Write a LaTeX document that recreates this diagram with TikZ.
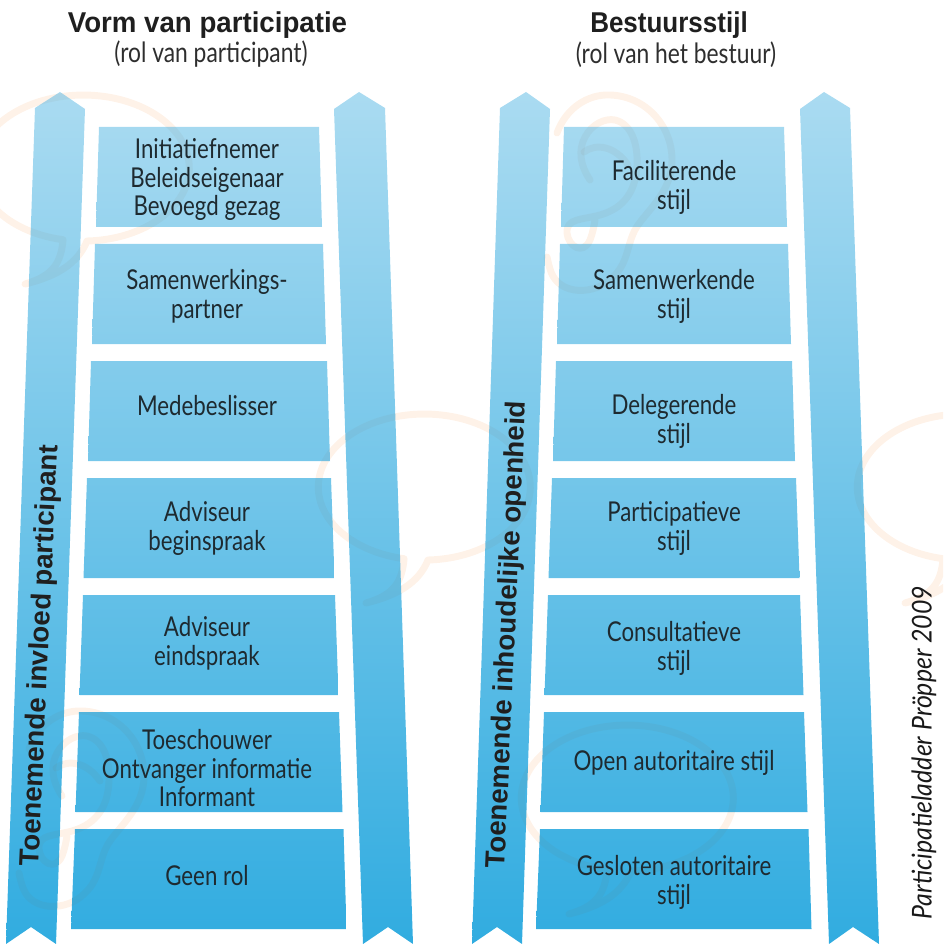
\documentclass[tikz,border=0pt]{standalone}
\usepackage{fontspec}
\setmainfont{Lato}
\newfontfamily\rungface[FakeStretch=0.815]{Lato}
\newfontfamily\headface{Liberation Sans}
\newfontfamily\italface[FakeStretch=0.91]{Lato}
\definecolor{rlight}{HTML}{AADBF1}
\definecolor{rdeep}{HTML}{31ACE0}
\definecolor{ink}{HTML}{1E2A30}
\definecolor{wmark}{HTML}{FEF2E8}
\definecolor{wmshade}{HTML}{806040}
\tikzset{
  railshade/.style={top color=rlight,bottom color=rdeep,draw=none},
  rungtext/.style={text=ink,align=center,inner sep=0pt,font=\rungface\fontsize{20.5}{21.4}\selectfont},
  titletext/.style={text=black!88,inner sep=0pt,font=\headface\bfseries\fontsize{21.5}{24}\selectfont},
  subtext/.style={text=black!82,inner sep=0pt,font=\rungface\fontsize{21}{24}\selectfont},
  sidetext/.style={text=black!88,inner sep=0pt,font=\headface\bfseries\fontsize{20.7}{24}\selectfont},
  credittext/.style={text=black!90,inner sep=0pt,font=\italface\itshape\fontsize{20.5}{24}\selectfont},
  wmbase/.style={draw=wmark,line width=5.2pt,line cap=round,line join=round},
  wmover/.style={draw=wmshade,draw opacity=0.06,line width=5.2pt,line cap=round,line join=round},
}
\newcommand\wmbubble[2]{%
  \begin{scope}[shift={(#1,#2)}]
    \draw[wmstroke] (4,73) arc[start angle=88,end angle=-259,x radius=106,y radius=73]
      .. controls (-22,95) and (-30,108) .. (-58,116)
      .. controls (-25,108) and (-5,95) .. (4,73);
  \end{scope}}
\newcommand\wmear[2]{%
  \begin{scope}[shift={(#1,#2)}]
    \draw[wmstroke] (557,133) .. controls (566,108) and (588,94) .. (610,95)
      .. controls (645,96) and (672,125) .. (672,160)
      .. controls (672,190) and (650,208) .. (638,225)
      .. controls (626,242) and (630,262) .. (612,278)
      .. controls (595,295) and (560,296) .. (551,272)
      .. controls (549,266) and (548,262) .. (547,257);
    \draw[wmstroke] (590,180) .. controls (580,165) and (578,150) .. (585,137)
      .. controls (592,124) and (605,118) .. (615,120)
      .. controls (632,124) and (638,145) .. (637,165)
      .. controls (636,190) and (625,208) .. (600,215)
      .. controls (582,220) and (566,218) .. (567,233)
      .. controls (568,246) and (583,256) .. (590,240)
      .. controls (593,232) and (594,226) .. (595,220);
    \draw[wmstroke] (584,152) .. controls (596,143) and (615,146) .. (628,165);
  \end{scope}}
\newcommand\wmall{%
  \wmbubble{83}{168}
  \wmbubble{424}{487}
  \wmbubble{963}{487}
  \wmbubble{627}{798}
  \wmear{0}{0}
  \wmear{-528}{616}}
\begin{document}
\begin{tikzpicture}[x=0.75pt,y=-0.75pt]
\useasboundingbox (0,0) rectangle (943,944);
% pale speech balloons and ears on the paper
\begin{scope}[wmstroke/.style={wmbase}]
  \clip (0,0) rectangle (943,944);
  \wmall
\end{scope}
% rails
\shade[railshade] (60,92) -- (85,109) -- (56,944) -- (31,927) -- (6,944) -- (35,108) -- cycle;
\shade[railshade] (359,92) -- (385,108) -- (413,944) -- (388,927) -- (363,944) -- (334,109) -- cycle;
\shade[railshade] (526,92) -- (550,109) -- (522,944) -- (497,927) -- (472,944) -- (500,108) -- cycle;
\shade[railshade] (824,92) -- (850,108) -- (879,944) -- (853,927) -- (829,944) -- (800,109) -- cycle;
% rungs
\foreach \dx in {0,465}{
  \foreach \yt/\yb/\tl/\tr/\bl/\br/\pt/\pb in {
    127/227/99/319/96/322/4/16,
    244/344/95/323/92/326/18/30,
    361/461/91/327/88/330/32/43,
    478/578/87/331/83.5/334.5/45/57,
    595/695/83/335/79.5/338.5/59/71,
    712/812/79/339/75.5/342.5/73/85,
    829/929/75/343.5/71/346.5/87/98}{
    \shade[top color=rdeep!\pt!rlight,bottom color=rdeep!\pb!rlight,draw=none,shift={(\dx,0)}]
      (\tl,\yt) -- (\tr,\yt) -- (\br,\yb) -- (\bl,\yb) -- cycle;
  }
}
% the same marks showing faintly through the blue
\begin{scope}[wmstroke/.style={wmover}]
  \clip
    (60,92) -- (85,109) -- (56,944) -- (31,927) -- (6,944) -- (35,108) -- cycle
    (359,92) -- (385,108) -- (413,944) -- (388,927) -- (363,944) -- (334,109) -- cycle
    (526,92) -- (550,109) -- (522,944) -- (497,927) -- (472,944) -- (500,108) -- cycle
    (824,92) -- (850,108) -- (879,944) -- (853,927) -- (829,944) -- (800,109) -- cycle
    (99,127) -- (319,127) -- (322,227) -- (96,227) -- cycle
    (95,244) -- (323,244) -- (326,344) -- (92,344) -- cycle
    (91,361) -- (327,361) -- (330,461) -- (88,461) -- cycle
    (87,478) -- (331,478) -- (334.5,578) -- (83.5,578) -- cycle
    (83,595) -- (335,595) -- (338.5,695) -- (79.5,695) -- cycle
    (79,712) -- (339,712) -- (342.5,812) -- (75.5,812) -- cycle
    (75,829) -- (343.5,829) -- (346.5,929) -- (71,929) -- cycle
    (564,127) -- (784,127) -- (787,227) -- (561,227) -- cycle
    (560,244) -- (788,244) -- (791,344) -- (557,344) -- cycle
    (556,361) -- (792,361) -- (795,461) -- (553,461) -- cycle
    (552,478) -- (796,478) -- (799.5,578) -- (548.5,578) -- cycle
    (548,595) -- (800,595) -- (803.5,695) -- (544.5,695) -- cycle
    (544,712) -- (804,712) -- (807.5,812) -- (540.5,812) -- cycle
    (540,829) -- (808.5,829) -- (811.5,929) -- (536,929) -- cycle;
  \wmall
\end{scope}
% titles
\node[titletext,xscale=0.965] (t1) at (207.5,25) {Vorm van participatie};
\node[subtext] (s1) at (211,54.5) {(rol van participant)};
\node[titletext,xscale=0.907] (t2) at (669,25) {Bestuursstijl};
\node[subtext] (s2) at (676,54.5) {(rol van het bestuur)};
% left ladder text
\node[rungtext] (a1) at (207,179.5) {Initiatiefnemer\\Beleidseigenaar\\Bevoegd gezag};
\node[rungtext] (a2) at (207,296.5) {Samenwerkings-\\partner};
\node[rungtext] (a3) at (207,406) {Medebeslisser};
\node[rungtext] (a4) at (207,528.5) {Adviseur\\beginspraak};
\node[rungtext] (a5) at (207,643.5) {Adviseur\\eindspraak};
\node[rungtext] (a6) at (207,768.5) {Toeschouwer\\Ontvanger informatie\\Informant};
\node[rungtext] (a7) at (207,876) {Geen rol};
% right ladder text
\node[rungtext] (b1) at (674,187.5) {Faciliterende\\stijl};
\node[rungtext] (b2) at (674,296.5) {Samenwerkende\\stijl};
\node[rungtext] (b3) at (674,421.5) {Delegerende\\stijl};
\node[rungtext] (b4) at (674,528.5) {Participatieve\\stijl};
\node[rungtext] (b5) at (674,648.5) {Consultatieve\\stijl};
\node[rungtext] (b6) at (674,763) {Open autoritaire stijl};
\node[rungtext] (b7) at (674,882.5) {Gesloten autoritaire\\stijl};
% rail labels
\node[sidetext,rotate=87.4] (r1) at (41,655.5) {Toenemende invloed participant};
\node[sidetext,rotate=87.4] (r2) at (508,634.5) {Toenemende inhoudelijke openheid};
\node[credittext,rotate=90] (c) at (924,752.5) {Participatieladder Pröpper 2009};
\end{tikzpicture}
\end{document}
